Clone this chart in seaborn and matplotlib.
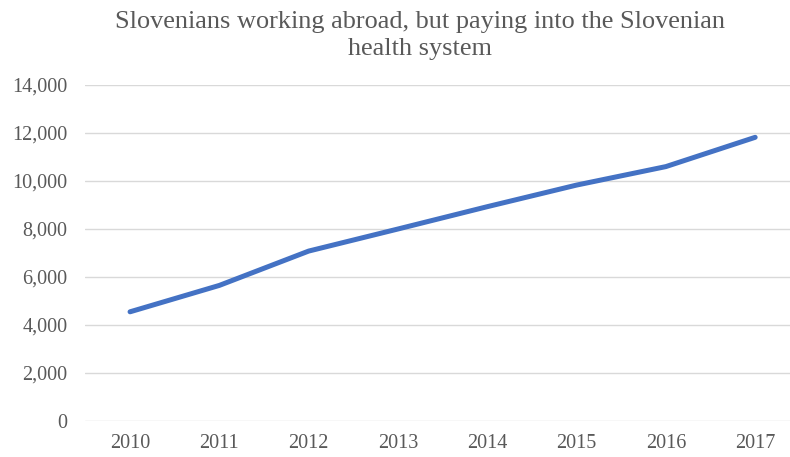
import matplotlib
matplotlib.use("Agg")
import matplotlib.pyplot as plt
import seaborn as sns
import pandas as pd
from matplotlib.ticker import FuncFormatter, MultipleLocator

years = ["2010", "2011", "2012", "2013", "2014", "2015", "2016", "2017"]
workers = [4550, 5650, 7080, 8000, 8930, 9830, 10600, 11820]
title = "Slovenians working abroad, but paying into the Slovenian\nhealth system"

df = pd.DataFrame({"year": years, "workers": workers})

sns.set_theme(style="white")
plt.rcParams["font.family"] = ["Liberation Serif", "DejaVu Serif"]

fig = plt.figure(figsize=(7.9, 4.57), dpi=100)
ax = fig.add_axes([85.4 / 790, 36 / 457, (790 - 85.4) / 790, 336 / 457])

sns.lineplot(data=df, x="year", y="workers", ax=ax, color="#4472C4",
             linewidth=3.6, sort=False, solid_capstyle="round", solid_joinstyle="round")

ax.set_xlim(-0.5, 7.39)
ax.set_ylim(0, 14000)
ax.yaxis.set_major_locator(MultipleLocator(2000))
ax.yaxis.set_major_formatter(FuncFormatter(lambda v, p: f"{int(v):,}"))
ax.grid(axis="y", color="#D9D9D9", linewidth=1.0)
ax.set_axisbelow(True)
for s in ax.spines.values():
    s.set_visible(False)
ax.set_xlabel("")
ax.set_ylabel("")
ax.tick_params(axis="both", length=0, labelsize=14.5, colors="#595959")
ax.tick_params(axis="y", pad=13)
ax.tick_params(axis="x", pad=9)

fig.text(420 / 790, 1 - 11 / 457, title, ha="center", va="top", fontsize=18.9,
         color="#595959", linespacing=1.3)

fig.savefig("out.png", dpi=100)
